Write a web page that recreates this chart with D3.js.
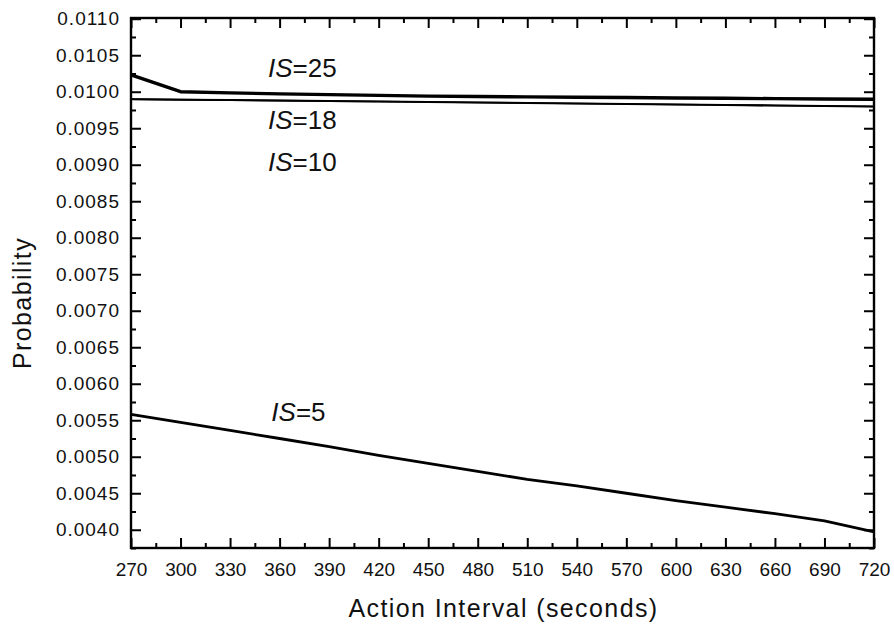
<!DOCTYPE html>
<html>
<head>
<meta charset="utf-8">
<script src="https://cdn.jsdelivr.net/npm/d3@7"></script>
<style>
    body { margin: 0; background: #fff; }
    svg { display: block; font-family: 'Liberation Sans', Arial, sans-serif; }
    .axis text { font-size: 19px; fill: #111; }
    .axis--y text { letter-spacing: 1px; }
    .axis path, .axis line { stroke: #000; }
    .axis line { stroke-width: 2px; }
</style>
</head>
<body>
<div id="chart"></div>
<script>
// Action interval (seconds) on x
const intervals = [270, 300, 330, 360, 390, 420, 450, 480, 510, 540, 570, 600, 630, 660, 690, 720];

// probability for each IS value
const is25 = [0.01023, 0.01000, 0.009985, 0.00997, 0.00996, 0.00995, 0.00994, 0.009935,
    0.00993, 0.009925, 0.00992, 0.009915, 0.00991, 0.009905, 0.00990, 0.009897];
const is18 = [0.00990, 0.009893, 0.009887, 0.00988, 0.009873, 0.009867, 0.00986, 0.009853,
    0.009847, 0.00984, 0.009833, 0.009827, 0.00982, 0.009813, 0.009807, 0.00980];
const is10 = [0.009897, 0.00989, 0.009884, 0.009877, 0.00987, 0.009864, 0.009857, 0.00985,
    0.009844, 0.009837, 0.00983, 0.009824, 0.009817, 0.00981, 0.009804, 0.009797];
const is5 = [0.00558, 0.00547, 0.00536, 0.00525, 0.00514, 0.00502, 0.00491, 0.00480,
    0.00469, 0.00460, 0.00450, 0.00440, 0.00431, 0.00422, 0.00412, 0.00397];

const xTicks = [270, 300, 330, 360, 390, 420, 450, 480, 510, 540, 570, 600, 630, 660, 690, 720];
const yTicks = [0.0040, 0.0045, 0.0050, 0.0055, 0.0060, 0.0065, 0.0070, 0.0075,
    0.0080, 0.0085, 0.0090, 0.0095, 0.0100, 0.0105, 0.0110];

// curve labels, anchored in data units
const labelNames = ['25', '18', '10', '5'];
const labelX = [353, 353, 353, 355];
const labelY = [0.01020, 0.009486, 0.008911, 0.005486];

const series = [
    {name: '25', values: is25, width: 3.4},
    {name: '18', values: is18, width: 1.8},
    {name: '10', values: is10, width: 1.8},
    {name: '5', values: is5, width: 2.8}
];

const totalWidth = 894;
const totalHeight = 631;
const margin = {top: 18, right: 20, bottom: 83, left: 131};
const width = totalWidth - margin.left - margin.right;
const height = totalHeight - margin.top - margin.bottom;

const x = d3.scaleLinear()
    .domain([270, 720])
    .range([0, width]);
const y = d3.scaleLinear()
    .domain([0.00375, 0.01101])
    .range([height, 0]);

// minor ticks halfway between majors
const xMinor = xTicks.slice(1).map((d) => { return d - 15 });
const yMinor = yTicks.map((d) => { return d - 0.00025 });

const svg = d3.select('#chart').append('svg')
    .attr('width', totalWidth)
    .attr('height', totalHeight);

const g = svg.append('g')
    .attr('transform', 'translate(' + margin.left + ',' + margin.top + ')');

// bottom axis with labels, ticks pointing in
g.append('g')
    .attr('class', 'axis axis--x')
    .attr('transform', 'translate(0,' + height + ')')
    .call(d3.axisBottom(x).tickValues(xTicks).tickFormat(d3.format('d'))
        .tickSize(-10).tickSizeOuter(0).tickPadding(15));
g.append('g')
    .attr('class', 'axis')
    .attr('transform', 'translate(0,' + height + ')')
    .call(d3.axisBottom(x).tickValues(xMinor).tickFormat('').tickSize(-5).tickSizeOuter(0));

// top mirror
g.append('g')
    .attr('class', 'axis')
    .call(d3.axisTop(x).tickValues(xTicks).tickFormat('').tickSize(-10).tickSizeOuter(0));
g.append('g')
    .attr('class', 'axis')
    .call(d3.axisTop(x).tickValues(xMinor).tickFormat('').tickSize(-5).tickSizeOuter(0));

// left axis
g.append('g')
    .attr('class', 'axis axis--y')
    .call(d3.axisLeft(y).tickValues(yTicks).tickFormat(d3.format('.4f'))
        .tickSize(-10).tickSizeOuter(0).tickPadding(11));
g.append('g')
    .attr('class', 'axis')
    .call(d3.axisLeft(y).tickValues(yMinor).tickFormat('').tickSize(-5).tickSizeOuter(0));

// right mirror
g.append('g')
    .attr('class', 'axis')
    .attr('transform', 'translate(' + width + ',0)')
    .call(d3.axisRight(y).tickValues(yTicks).tickFormat('').tickSize(-10).tickSizeOuter(0));
g.append('g')
    .attr('class', 'axis')
    .attr('transform', 'translate(' + width + ',0)')
    .call(d3.axisRight(y).tickValues(yMinor).tickFormat('').tickSize(-5).tickSizeOuter(0));

g.selectAll('.axis .domain').remove();

g.append('rect')
    .attr('width', width)
    .attr('height', height)
    .attr('fill', 'none')
    .attr('stroke', '#000')
    .attr('stroke-width', 2.4);

const line = d3.line()
    .x((d, i) => { return x(intervals[i]) })
    .y((d) => { return y(d) });

g.selectAll('.curve')
    .data(series)
    .enter()
.append('path')
    .attr('class', 'curve')
    .attr('fill', 'none')
    .attr('stroke', '#000')
    .attr('stroke-linejoin', 'round')
    .attr('stroke-width', (d) => { return d.width })
    .attr('d', (d) => { return line(d.values) });

const labels = g.selectAll('.label')
    .data(labelNames)
    .enter()
.append('text')
    .attr('class', 'label')
    .attr('x', (d, i) => { return x(labelX[i]) })
    .attr('y', (d, i) => { return y(labelY[i]) })
    .style('font-size', '26px')
    .style('fill', '#111');

labels.append('tspan')
    .style('font-style', 'italic')
    .text('IS');
labels.append('tspan')
    .text((d) => { return '=' + d });

// axis titles
svg.append('text')
    .attr('x', margin.left + width / 2 + 1)
    .attr('y', 617)
    .attr('text-anchor', 'middle')
    .style('font-size', '25px')
    .style('letter-spacing', '1.4px')
    .style('fill', '#111')
    .text('Action Interval (seconds)');

svg.append('text')
    .attr('transform', 'translate(31,303) rotate(-90)')
    .attr('text-anchor', 'middle')
    .style('font-size', '25px')
    .style('letter-spacing', '1.4px')
    .style('fill', '#111')
    .text('Probability');
</script>
</body>
</html>
